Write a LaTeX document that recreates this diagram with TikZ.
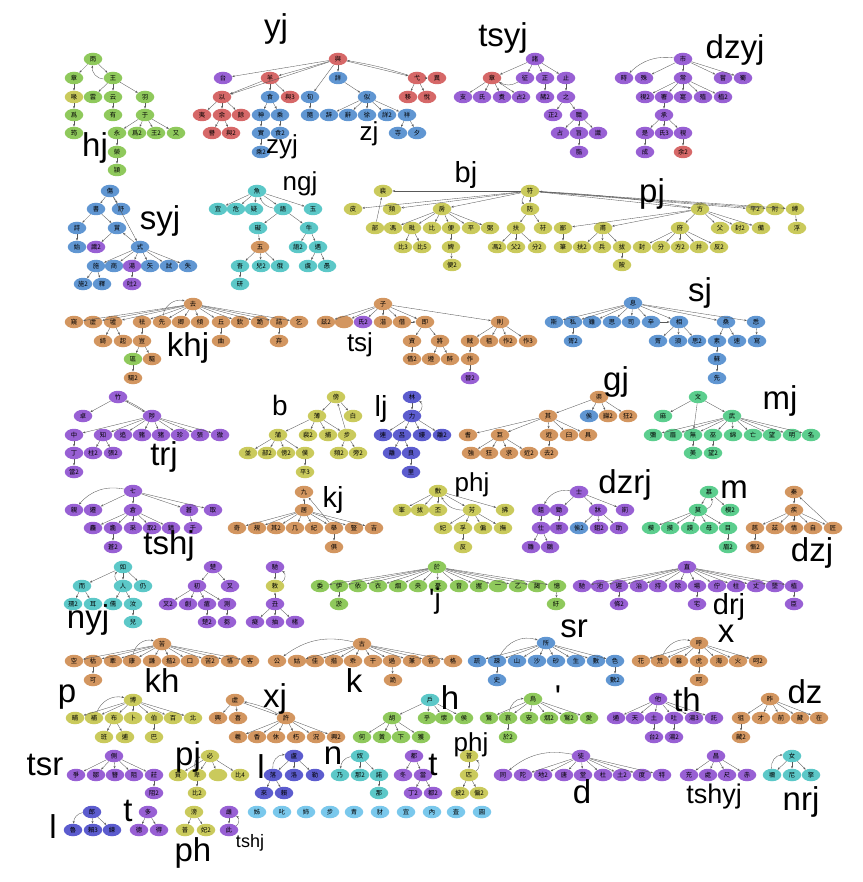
\documentclass[tikz,border=0pt]{standalone}
\usepackage{fontspec}
\setmainfont{Liberation Sans}
\newfontfamily\cjk{Noto Sans CJK TC}
\usetikzlibrary{arrows.meta,shapes.geometric}
\definecolor{cgr}{RGB}{143,201,92}
\definecolor{crd}{RGB}{214,104,104}
\definecolor{cbl}{RGB}{96,150,210}
\definecolor{cpu}{RGB}{152,96,212}
\definecolor{ctl}{RGB}{92,200,200}
\definecolor{cyl}{RGB}{202,202,92}
\definecolor{cor}{RGB}{211,150,96}
\definecolor{cin}{RGB}{92,92,206}
\definecolor{cmt}{RGB}{92,206,142}
\definecolor{csk}{RGB}{122,200,236}
\tikzset{
  nd/.style={ellipse, minimum width=18.5pt, minimum height=12.5pt, inner sep=0pt,
    font=\cjk\fontsize{6.3}{7}\selectfont},
  gr/.style={nd, fill=cgr}, rd/.style={nd, fill=crd}, bl/.style={nd, fill=cbl},
  pu/.style={nd, fill=cpu}, tl/.style={nd, fill=ctl}, yl/.style={nd, fill=cyl},
  og/.style={nd, fill=cor}, ig/.style={nd, fill=cin}, mt/.style={nd, fill=cmt},
  sk/.style={nd, fill=csk},
  ar/.style={-{Stealth[length=2.6pt,width=2pt]}, draw=black!65, line width=0.35pt},
  lbl/.style={inner sep=0pt, font=\fontsize{33}{33}\selectfont},
  slbl/.style={inner sep=0pt, font=\fontsize{26}{26}\selectfont},
}
\begin{document}
\begin{tikzpicture}[x=1pt,y=-1pt]
\useasboundingbox (0,0) rectangle (862,882);
% hj
\node[gr] (hj0) at (93,59) {雨};
\foreach \n/\x/\s in {hj1/74/章,hj2/113/王} \node[gr] (\n) at (\x,78) {\s};
\node[yl] (hj3) at (74,97) {喙};
\foreach \n/\x/\s in {hj4/93/雲,hj5/113/云,hj6/145/羽} \node[gr] (\n) at (\x,97) {\s};
\foreach \n/\x/\s in {hj7/74/爲,hj8/113/有,hj9/145/于} \node[gr] (\n) at (\x,115) {\s};
\foreach \n/\x/\s in {hj10/74/筠,hj11/117/永,hj12/137/爲2,hj13/156/王2,hj14/176/又} \node[gr] (\n) at (\x,133) {\s};
\node[gr] (hj15) at (117,152) {榮};
\node[gr] (hj16) at (117,170) {潁};
\foreach \a/\b in {hj0/hj1,hj0/hj2,hj1/hj3,hj3/hj7,hj7/hj10,hj2/hj4,hj2/hj5,hj2/hj6,hj5/hj8,hj6/hj9,
  hj9/hj11,hj9/hj12,hj9/hj13,hj9/hj14,hj11/hj15,hj15/hj16} \draw[ar] (\a) -- (\b);
\draw[ar] (hj2) to[bend left=50] (hj0);
\node[lbl] (Lhj) at (95,148) {hj};
% yj, zyj, zj
\node[rd] (yj0) at (338,59) {與};
\node[pu] (yj1) at (223,78) {台};
\node[rd] (yj2) at (270,78) {羊};
\node[rd] (yj3) at (222,97) {以};
\node[bl] (zy0) at (270,97) {食};
\node[rd] (yj4) at (290,97) {與3};
\foreach \n/\x/\s in {yj5/202/夷,yj6/222/余,yj7/241/餘} \node[rd] (\n) at (\x,115) {\s};
\foreach \n/\x/\s in {yj8/212/譽,yj9/231/與2} \node[rd] (\n) at (\x,133) {\s};
\foreach \n/\x/\s in {yj10/417/弋,yj11/437/異} \node[rd] (\n) at (\x,78) {\s};
\foreach \n/\x/\s in {yj12/408/移,yj13/427/悅} \node[rd] (\n) at (\x,97) {\s};
\foreach \n/\x/\s in {zy1/261/神,zy2/280/乘} \node[bl] (\n) at (\x,115) {\s};
\foreach \n/\x/\s in {zy3/261/實,zy4/280/食2} \node[bl] (\n) at (\x,133) {\s};
\node[bl] (zy5) at (261,152) {乘2};
\node[bl] (zj0) at (338,78) {詳};
\foreach \n/\x/\s in {zj1/310/旬,zj2/367/似} \node[bl] (\n) at (\x,97) {\s};
\foreach \n/\x/\s in {zj3/310/隨,zj4/329/辞,zj5/348/辭,zj6/367/徐,zj7/387/詳2,zj8/407/祥} \node[bl] (\n) at (\x,115) {\s};
\foreach \n/\x/\s in {zj9/398/寺,zj10/417/夕} \node[bl] (\n) at (\x,133) {\s};
\foreach \a/\b in {yj0/yj1,yj0/yj2,yj0/zj0,yj0/yj10,yj0/zj1,yj0/yj3,yj2/yj3,yj2/zy0,yj2/yj4,yj3/yj5,yj3/yj6,
  yj3/yj7,yj6/yj8,yj6/yj9,yj10/yj11,yj10/yj12,yj10/yj13,zy0/zy1,zy0/zy2,zy1/zy3,zy2/zy4,zy3/zy5,
  zj0/zj2,zj1/zj3,zj2/zj4,zj2/zj5,zj2/zj6,zj2/zj7,zj2/zj8,zj8/zj9,zj8/zj10} \draw[ar] (\a) -- (\b);
\draw[ar] (yj10) to[bend right=4] (yj0);
\node[lbl] (Lyj) at (276,29) {yj};
\node[slbl] (Lzyj) at (282,147) {zyj};
\node[slbl] (Lzj) at (369,134) {zj};
% tsyj
\node[pu] (ts0) at (535,59) {諸};
\node[rd] (ts1) at (492,78) {章};
\foreach \n/\x/\s in {ts2/525/征,ts3/545/正,ts4/566/止} \node[pu] (\n) at (\x,78) {\s};
\foreach \n/\x/\s in {ts5/463/支,ts6/482/氏,ts7/502/煑,ts8/521/占2,ts9/545/赭2,ts10/566/之} \node[pu] (\n) at (\x,97) {\s};
\foreach \n/\x/\s in {ts11/553/正2,ts12/579/職} \node[pu] (\n) at (\x,115) {\s};
\foreach \n/\x/\s in {ts13/560/占,ts14/579/旨,ts15/598/識} \node[pu] (\n) at (\x,133) {\s};
\node[pu] (ts16) at (579,152) {脂};
\foreach \a/\b in {ts0/ts1,ts0/ts2,ts0/ts3,ts0/ts4,ts1/ts5,ts1/ts6,ts1/ts7,ts1/ts8,ts3/ts9,ts4/ts10,
  ts10/ts11,ts10/ts12,ts12/ts13,ts12/ts14,ts12/ts15,ts14/ts16} \draw[ar] (\a) -- (\b);
\draw[ar] (ts2) to[bend left=30] (ts1);
\node[lbl] (Ltsyj) at (503,38) {tsyj};
% dzyj
\node[pu] (dy0) at (683,59) {市};
\foreach \n/\x/\s in {dy1/624/時,dy2/644/殊,dy3/683/常,dy4/723/嘗,dy5/743/蜀} \node[pu] (\n) at (\x,78) {\s};
\foreach \n/\x/\s in {dy6/645/視2,dy7/664/署,dy8/683/寔,dy9/703/殖,dy10/723/植2} \node[pu] (\n) at (\x,97) {\s};
\node[pu] (dy11) at (664,115) {承};
\foreach \n/\x/\s in {dy12/645/是,dy13/664/氏3,dy14/683/視} \node[pu] (\n) at (\x,133) {\s};
\node[pu] (dy15) at (645,152) {成};
\node[rd] (dy16) at (683,152) {余2};
\foreach \a/\b in {dy0/dy2,dy0/dy3,dy0/dy4,dy0/dy5,dy3/dy6,dy3/dy7,dy3/dy8,dy3/dy9,dy3/dy10,dy7/dy11,
  dy11/dy12,dy11/dy13,dy11/dy14,dy12/dy15,dy14/dy16} \draw[ar] (\a) -- (\b);
\draw[ar] (dy0) to[bend right=25] (dy1);
\node[lbl] (Ldzyj) at (735,50) {dzyj};
% syj
\node[bl] (sy0) at (110,191) {傷};
\foreach \n/\x/\s in {sy1/96/書,sy2/121/舒} \node[bl] (\n) at (\x,209) {\s};
\foreach \n/\x/\s in {sy3/77/詩,sy4/117/賞} \node[bl] (\n) at (\x,228) {\s};
\node[bl] (sy5) at (77,247) {始};
\node[pu] (sy6) at (96,247) {識2};
\node[bl] (sy7) at (140,247) {式};
\foreach \n/\x/\s in {sy8/96/施,sy9/114/商,sy11/150/矢,sy12/169/試,sy13/188/失} \node[bl] (\n) at (\x,266) {\s};
\node[pu] (sy10) at (132,266) {湯};
\foreach \n/\x/\s in {sy14/83/施2,sy15/102/釋} \node[bl] (\n) at (\x,284) {\s};
\node[pu] (sy16) at (132,284) {吐2};
\foreach \a/\b in {sy0/sy1,sy0/sy2,sy0/sy7,sy1/sy3,sy1/sy4,sy3/sy5,sy4/sy6,sy7/sy4,sy7/sy8,sy7/sy9,
  sy7/sy10,sy7/sy11,sy7/sy12,sy7/sy13,sy8/sy14,sy8/sy15,sy10/sy16} \draw[ar] (\a) -- (\b);
\node[lbl] (Lsyj) at (160,221) {syj};
% ngj
\node[tl] (ng0) at (257,191) {魚};
\foreach \n/\x/\s in {ng1/218/宜,ng2/236/危,ng3/254/疑,ng4/283/語,ng5/313/玉} \node[tl] (\n) at (\x,209) {\s};
\foreach \n/\x/\s in {ng6/258/礙,ng7/309/牛} \node[tl] (\n) at (\x,228) {\s};
\node[og] (ng8) at (260,247) {五};
\foreach \n/\x/\s in {ng9/298/語2,ng10/318/遇} \node[tl] (\n) at (\x,247) {\s};
\foreach \n/\x/\s in {ng11/240/吾,ng12/261/兒2,ng13/280/俄,ng14/308/虞,ng15/327/愚} \node[tl] (\n) at (\x,266) {\s};
\node[tl] (ng16) at (240,284) {研};
\foreach \a/\b in {ng0/ng1,ng0/ng2,ng0/ng3,ng0/ng4,ng0/ng5,ng4/ng6,ng4/ng7,ng6/ng8,ng7/ng9,ng7/ng10,
  ng8/ng11,ng8/ng12,ng8/ng13,ng10/ng14,ng10/ng15,ng11/ng16} \draw[ar] (\a) -- (\b);
\draw[ar] (ng4) to[bend left=30] (ng0);
\node[slbl] (Lngj) at (300,184) {ngj};
% bj, pj
\node[yl] (bp0) at (530,191) {符};
\node[yl] (bp1) at (383,191) {裴};
\foreach \n/\x/\s in {bp2/353/皮,bp3/392/頻,bp4/442/房,bp5/530/防,bp6/700/方,bp7/755/平2,bp8/775/附,bp9/795/縛}
  \node[yl] (\n) at (\x,209) {\s};
\foreach \n/\x/\s in {bp10/375/部,bp11/393/馮,bp12/412/毗,bp13/432/比,bp14/451/便,bp15/471/平,bp16/490/弼,
  bp17/516/扶,bp18/543/苻,bp19/563/鄙,bp20/603/甫,bp21/680/府,bp22/720/父,bp23/740/封2,bp24/761/備,bp25/797/浮}
  \node[yl] (\n) at (\x,228) {\s};
\foreach \n/\x/\s in {bp26/403/比3,bp27/422/比5,bp28/451/婢,bp29/497/馮2,bp30/516/父2,bp31/537/分2,bp32/563/筆,
  bp33/582/扶2,bp34/602/兵,bp35/622/拔,bp36/642/封,bp37/661/分,bp38/680/方2,bp39/699/并,bp40/719/反2}
  \node[yl] (\n) at (\x,247) {\s};
\foreach \n/\x/\s in {bp41/452/便2,bp42/622/陂} \node[yl] (\n) at (\x,265) {\s};
\foreach \a/\b in {bp0/bp1,bp0/bp2,bp0/bp3,bp0/bp4,bp0/bp5,bp0/bp6,bp0/bp7,bp0/bp8,bp0/bp9,bp10/bp1,
  bp4/bp11,bp4/bp12,bp4/bp13,bp4/bp14,bp4/bp15,bp4/bp16,bp12/bp26,bp12/bp27,bp14/bp28,bp28/bp41,
  bp5/bp17,bp5/bp18,bp17/bp29,bp17/bp30,bp17/bp31,bp6/bp19,bp6/bp20,bp6/bp21,bp6/bp22,bp6/bp23,bp6/bp24,
  bp19/bp32,bp20/bp33,bp20/bp34,bp20/bp35,bp35/bp42,bp21/bp36,bp21/bp37,bp21/bp38,bp21/bp39,bp21/bp40,
  bp9/bp25} \draw[ar] (\a) -- (\b);
\draw[ar] (bp0) to[bend right=50] (bp5);
\draw[ar] (bp6) to[bend right=3] (bp0);
\node[inner sep=0pt, font=\fontsize{29}{29}\selectfont] (Lbj) at (466,175) {bj};
\node[lbl] (Lpj) at (652,194) {pj};
% khj
\node[og] (khj0) at (193,304) {去};
\foreach \n/\x/\s in {khj1/74/窺,khj2/93/虛,khj3/113/墟,khj4/142/祛,khj5/162/先,khj6/181/卿,khj7/200/傾,
  khj8/221/丘,khj9/240/欽,khj10/260/跪,khj11/279/詰,khj12/299/乞} \node[og] (\n) at (\x,322) {\s};
\foreach \n/\x/\s in {khj13/103/綺,khj14/123/起,khj15/142/豈,khj16/221/曲,khj17/279/弃} \node[og] (\n) at (\x,341) {\s};
\node[gr] (khj18) at (133,359) {區};
\node[og] (khj19) at (152,359) {驅};
\node[og] (khj20) at (133,378) {驅2};
\foreach \i in {1,...,12} \draw[ar] (khj0) -- (khj\i);
\foreach \a/\b in {khj3/khj13,khj3/khj14,khj4/khj15,khj15/khj18,khj15/khj19,khj18/khj20,khj8/khj16,khj11/khj17}
  \draw[ar] (\a) -- (\b);
\draw[ar] (khj5) to[bend left=50] (khj0);
\node[lbl] (Lkhj) at (188,348) {khj};
% tsj
\node[og] (tsj0) at (383,304) {子};
\foreach \n/\x/\s in {tsj1/326/兹2,tsj2/344/{},tsj4/383/湝,tsj5/402/借,tsj6/425/即,tsj7/500/則} \node[og] (\n) at (\x,322) {\s};
\node[pu] (tsj3) at (363,322) {氏2};
\foreach \n/\x/\s in {tsj8/412/資,tsj9/440/將,tsj10/470/賊,tsj11/489/祖,tsj12/508/作2,tsj13/528/作3} \node[og] (\n) at (\x,341) {\s};
\foreach \n/\x/\s in {tsj14/412/借2,tsj15/431/遵,tsj16/450/醉,tsj17/470/作} \node[og] (\n) at (\x,359) {\s};
\node[pu] (tsj18) at (470,378) {晉2};
\foreach \i in {1,...,7} \draw[ar] (tsj0) -- (tsj\i);
\foreach \a/\b in {tsj5/tsj6,tsj6/tsj8,tsj6/tsj9,tsj8/tsj14,tsj9/tsj15,tsj9/tsj16,tsj7/tsj10,tsj7/tsj11,
  tsj7/tsj12,tsj7/tsj13,tsj10/tsj17,tsj17/tsj18} \draw[ar] (\a) -- (\b);
\node[slbl] (Ltsj) at (360,345) {tsj};
% sj
\node[bl] (sj0) at (633,303) {息};
\foreach \n/\x/\s in {sj1/554/斯,sj2/573/私,sj3/592/雖,sj4/612/思,sj5/631/司,sj6/651/辛,sj7/679/相,sj8/726/桑,sj9/756/悉}
  \node[bl] (\n) at (\x,322) {\s};
\foreach \n/\x/\s in {sj10/573/胥2,sj11/658/胥,sj12/678/須,sj13/697/思2,sj14/717/素,sj15/737/速,sj16/757/寫}
  \node[bl] (\n) at (\x,341) {\s};
\node[bl] (sj17) at (717,359) {蘇};
\node[bl] (sj18) at (717,378) {先};
\foreach \i in {1,...,9} \draw[ar] (sj0) -- (sj\i);
\foreach \a/\b in {sj6/sj7,sj2/sj10,sj7/sj11,sj7/sj12,sj7/sj13,sj8/sj14,sj8/sj15,sj14/sj17,sj17/sj18,sj9/sj16}
  \draw[ar] (\a) -- (\b);
\node[lbl] (Lsj) at (700,293) {sj};
% trj
\node[pu] (trj0) at (118,397) {竹};
\foreach \n/\x/\s in {trj1/83/卓,trj2/152/陟} \node[pu] (\n) at (\x,416) {\s};
\foreach \n/\x/\s in {trj3/74/中,trj4/103/知,trj5/123/追,trj6/142/豬,trj7/161/猪,trj8/180/珍,trj9/200/張,trj10/220/徹}
  \node[pu] (\n) at (\x,435) {\s};
\foreach \n/\x/\s in {trj11/74/丁,trj12/93/柱2,trj13/113/張2} \node[pu] (\n) at (\x,453) {\s};
\node[pu] (trj14) at (74,472) {當2};
\foreach \i in {3,...,10} \draw[ar] (trj2) -- (trj\i);
\foreach \a/\b in {trj0/trj1,trj0/trj2,trj3/trj11,trj11/trj14,trj4/trj12,trj4/trj13} \draw[ar] (\a) -- (\b);
\draw[ar] (trj2) to[bend right=5] (trj0);
\node[lbl] (Ltrj) at (164,457) {trj};
% b
\node[yl] (bb0) at (336,397) {傍};
\foreach \n/\x/\s in {bb1/317/薄,bb2/353/白} \node[yl] (\n) at (\x,416) {\s};
\foreach \n/\x/\s in {bb3/278/蒲,bb4/308/裴2,bb5/328/捕,bb6/347/步} \node[yl] (\n) at (\x,435) {\s};
\foreach \n/\x/\s in {bb7/248/並,bb8/267/部2,bb9/286/傍2,bb10/305/僕,bb11/339/頻2,bb12/358/旁2} \node[yl] (\n) at (\x,453) {\s};
\node[yl] (bb13) at (305,472) {平3};
\foreach \a/\b in {bb0/bb1,bb0/bb2,bb6/bb0,bb1/bb3,bb1/bb4,bb1/bb5,bb1/bb6,bb3/bb7,bb3/bb8,bb3/bb9,bb3/bb10,
  bb10/bb13,bb6/bb11,bb6/bb12} \draw[ar] (\a) -- (\b);
\node[inner sep=0pt, font=\fontsize{28}{28}\selectfont] (Lb) at (280,405) {b};
% lj
\node[ig] (lj0) at (412,397) {林};
\node[ig] (lj1) at (412,416) {力};
\foreach \n/\x/\s in {lj2/383/連,lj3/402/呂,lj4/422/縷,lj5/442/離2} \node[ig] (\n) at (\x,435) {\s};
\foreach \n/\x/\s in {lj6/392/離,lj7/411/良} \node[ig] (\n) at (\x,453) {\s};
\node[ig] (lj8) at (411,472) {里};
\foreach \a/\b in {lj0/lj1,lj1/lj2,lj1/lj3,lj1/lj4,lj1/lj5,lj3/lj6,lj3/lj7,lj7/lj8} \draw[ar] (\a) -- (\b);
\draw[ar] (lj1) to[bend right=60] (lj0);
\node[inner sep=0pt, font=\fontsize{29}{29}\selectfont] (Llj) at (381,409) {lj};
% gj
\node[og] (gj0) at (599,397) {渠};
\node[og] (gj1) at (548,416) {其};
\node[bl] (gj2) at (589,416) {俟};
\foreach \n/\x/\s in {gj3/608/巋2,gj4/628/狂2} \node[og] (\n) at (\x,416) {\s};
\foreach \n/\x/\s in {gj5/468/耆,gj6/500/巨,gj7/549/近,gj8/569/臼,gj9/588/具} \node[og] (\n) at (\x,435) {\s};
\foreach \n/\x/\s in {gj10/471/強,gj11/489/狂,gj12/509/求,gj13/529/近2,gj14/549/去2} \node[og] (\n) at (\x,453) {\s};
\foreach \a/\b in {gj0/gj1,gj0/gj2,gj0/gj3,gj0/gj4,gj1/gj5,gj1/gj6,gj1/gj7,gj1/gj8,gj1/gj9,gj6/gj10,gj6/gj11,
  gj6/gj12,gj6/gj13,gj7/gj14} \draw[ar] (\a) -- (\b);
\node[lbl] (Lgj) at (616,382) {gj};
% mj
\node[mt] (mj0) at (698,397) {文};
\foreach \n/\x/\s in {mj1/663/麻,mj2/732/武} \node[mt] (\n) at (\x,416) {\s};
\foreach \n/\x/\s in {mj3/653/彌,mj4/673/眉,mj5/693/無,mj6/713/巫,mj7/733/綿,mj8/753/亡,mj9/772/望,mj10/792/明,mj11/811/名}
  \node[mt] (\n) at (\x,435) {\s};
\foreach \n/\x/\s in {mj12/693/美,mj13/713/望2} \node[mt] (\n) at (\x,453) {\s};
\foreach \i in {3,...,11} \draw[ar] (mj2) -- (mj\i);
\foreach \a/\b in {mj0/mj1,mj0/mj2,mj0/mj5,mj5/mj12,mj6/mj13} \draw[ar] (\a) -- (\b);
\node[lbl] (Lmj) at (780,401) {mj};
% tshj
\node[pu] (tshj0) at (133,491) {七};
\foreach \n/\x/\s in {tshj1/74/親,tshj2/93/遷,tshj3/133/倉,tshj4/189/蒼,tshj5/213/取} \node[pu] (\n) at (\x,510) {\s};
\foreach \n/\x/\s in {tshj6/93/麤,tshj7/113/麁,tshj8/133/采,tshj9/152/取2,tshj10/171/錆,tshj11/193/千}
  \node[pu] (\n) at (\x,528) {\s};
\node[pu] (tshj12) at (113,547) {蒼2};
\foreach \a/\b in {tshj0/tshj2,tshj0/tshj3,tshj0/tshj4,tshj0/tshj5,tshj3/tshj6,tshj3/tshj7,tshj3/tshj8,
  tshj3/tshj9,tshj3/tshj10,tshj7/tshj12,tshj4/tshj11} \draw[ar] (\a) -- (\b);
\draw[ar] (tshj0) to[bend right=30] (tshj1);
\node[lbl] (Ltshj) at (169,546) {tshj};
% kj
\node[og] (kj0) at (304,492) {九};
\node[og] (kj1) at (304,510) {居};
\foreach \n/\x/\s in {kj2/237/奇,kj3/257/規,kj4/276/其2,kj5/295/几,kj6/314/紀,kj7/334/舉,kj8/354/豎,kj9/374/吉}
  \node[og] (\n) at (\x,528) {\s};
\node[og] (kj10) at (334,547) {俱};
\foreach \i in {2,...,9} \draw[ar] (kj1) -- (kj\i);
\foreach \a/\b in {kj1/kj0,kj7/kj0,kj7/kj10} \draw[ar] (\a) -- (\b);
\node[inner sep=0pt, font=\fontsize{29}{29}\selectfont] (Lkj) at (333,500) {kj};
% phj
\node[yl] (phj0) at (438,491) {敷};
\foreach \n/\x/\s in {phj1/402/峯,phj2/420/拔,phj3/438/丕,phj4/472/芳,phj5/505/拂} \node[yl] (\n) at (\x,510) {\s};
\foreach \n/\x/\s in {phj6/443/妃,phj7/463/孚,phj8/483/偏,phj9/503/撫} \node[yl] (\n) at (\x,528) {\s};
\node[yl] (phj10) at (463,547) {反};
\foreach \a/\b in {phj0/phj1,phj0/phj2,phj0/phj3,phj0/phj4,phj0/phj5,phj4/phj6,phj4/phj7,phj4/phj8,
  phj4/phj9,phj7/phj10} \draw[ar] (\a) -- (\b);
\draw[ar] (phj4) to[bend left=30] (phj0);
\node[slbl] (Lphj) at (472,485) {phj};
% dzrj
\node[pu] (dzr0) at (579,492) {士};
\foreach \n/\x/\s in {dzr1/541/鉏,dzr2/559/鋤,dzr3/598/牀,dzr4/625/崱} \node[pu] (\n) at (\x,510) {\s};
\foreach \n/\x/\s in {dzr5/541/仕,dzr6/559/崇,dzr8/599/鉏2,dzr9/619/助} \node[pu] (\n) at (\x,528) {\s};
\node[bl] (dzr7) at (579,528) {俟2};
\foreach \n/\x/\s in {dzr10/531/雛,dzr11/550/鶵} \node[pu] (\n) at (\x,547) {\s};
\foreach \a/\b in {dzr0/dzr2,dzr0/dzr3,dzr0/dzr4,dzr1/dzr5,dzr2/dzr6,dzr3/dzr7,dzr3/dzr8,dzr3/dzr9,
  dzr5/dzr10,dzr5/dzr11} \draw[ar] (\a) -- (\b);
\draw[ar] (dzr0) to[bend right=35] (dzr1);
\node[lbl] (Ldzrj) at (625,485) {dzrj};
% m
\node[mt] (mm0) at (709,492) {慕};
\node[mt] (mm1) at (698,510) {莫};
\node[mt] (mm2) at (730,510) {模2};
\foreach \n/\x/\s in {mm3/651/模,mm4/670/摸,mm5/690/謨,mm6/709/母,mm7/728/目} \node[mt] (\n) at (\x,528) {\s};
\node[mt] (mm8) at (728,547) {眉2};
\foreach \a/\b in {mm0/mm1,mm0/mm2,mm1/mm3,mm1/mm4,mm1/mm5,mm1/mm6,mm1/mm7,mm7/mm8} \draw[ar] (\a) -- (\b);
\draw[ar] (mm1) to[bend right=50] (mm0);
\node[lbl] (Lm) at (734,490) {m};
% dzj
\node[og] (dzj0) at (794,492) {秦};
\node[og] (dzj1) at (794,510) {疾};
\foreach \n/\x/\s in {dzj2/755/慈,dzj3/775/茲,dzj4/794/情,dzj5/813/自,dzj6/833/匠} \node[og] (\n) at (\x,528) {\s};
\node[og] (dzj7) at (755,547) {慚2};
\foreach \a/\b in {dzj0/dzj1,dzj1/dzj2,dzj1/dzj3,dzj1/dzj4,dzj1/dzj5,dzj1/dzj6,dzj6/dzj0,dzj2/dzj7}
  \draw[ar] (\a) -- (\b);
\node[lbl] (Ldzj) at (812,553) {dzj};
% nyj
\node[tl] (nyj0) at (123,567) {如};
\foreach \n/\x/\s in {nyj1/82/而,nyj2/123/人,nyj3/143/仍} \node[tl] (\n) at (\x,586) {\s};
\foreach \n/\x/\s in {nyj4/73/孺2,nyj5/93/耳,nyj6/113/儒,nyj7/133/汝} \node[tl] (\n) at (\x,604) {\s};
\node[tl] (nyj8) at (133,622) {兒};
\foreach \a/\b in {nyj0/nyj1,nyj0/nyj2,nyj0/nyj3,nyj1/nyj4,nyj1/nyj5,nyj2/nyj6,nyj2/nyj7,nyj7/nyj8}
  \draw[ar] (\a) -- (\b);
\draw[ar] (nyj2) to[bend left=50] (nyj0);
\node[lbl] (Lnyj) at (88,620) {nyj};
% chu
\node[pu] (chu0) at (213,567) {楚};
\foreach \n/\x/\s in {chu1/197/初,chu2/230/叉} \node[pu] (\n) at (\x,586) {\s};
\foreach \n/\x/\s in {chu3/168/叉2,chu4/188/創,chu5/207/瘡,chu6/227/測} \node[pu] (\n) at (\x,604) {\s};
\foreach \n/\x/\s in {chu7/207/楚2,chu8/227/芻} \node[pu] (\n) at (\x,622) {\s};
\foreach \a/\b in {chu0/chu1,chu0/chu2,chu1/chu3,chu1/chu4,chu1/chu5,chu1/chu6,chu5/chu7,chu6/chu8}
  \draw[ar] (\a) -- (\b);
% chi
\node[pu] (chi0) at (275,567) {馳};
\node[yl] (chi1) at (275,586) {敕};
\node[pu] (chi2) at (275,604) {丑};
\foreach \n/\x/\s in {chi3/255/癡,chi4/275/抽,chi5/295/楮} \node[pu] (\n) at (\x,622) {\s};
\foreach \a/\b in {chi0/chi1,chi2/chi1,chi2/chi3,chi2/chi4,chi2/chi5} \draw[ar] (\a) -- (\b);
\draw[ar] (chi1) to[bend right=60] (chi0);
% 'j
\node[gr] (aj0) at (437,567) {於};
\foreach \n/\x/\s in {aj1/320/委,aj2/339/伊,aj3/358/依,aj4/378/衣,aj5/398/烟,aj6/418/央,aj7/438/憂,aj8/459/音,
  aj9/479/握,aj10/498/一,aj11/518/乙,aj12/537/謁,aj13/557/憶} \node[gr] (\n) at (\x,586) {\s};
\foreach \n/\x/\s in {aj14/339/淤,aj15/556/紆} \node[gr] (\n) at (\x,604) {\s};
\foreach \i in {1,...,13} \draw[ar] (aj0) -- (aj\i);
\foreach \a/\b in {aj2/aj14,aj13/aj15} \draw[ar] (\a) -- (\b);
\node[inner sep=0pt, font=\fontsize{28}{28}\selectfont] (Laj) at (435,601) {\textquotesingle j};
% drj
\node[pu] (drj0) at (687,567) {直};
\foreach \n/\x/\s in {drj1/582/馳,drj2/600/池,drj3/619/遲,drj4/639/治,drj5/658/持,drj6/678/除,drj7/697/場,
  drj8/717/佇,drj9/736/柱,drj10/756/丈,drj11/775/墜,drj12/794/植} \node[pu] (\n) at (\x,586) {\s};
\foreach \n/\x/\s in {drj13/619/條2,drj14/697/宅,drj15/794/臣} \node[pu] (\n) at (\x,604) {\s};
\foreach \i in {1,...,12} \draw[ar] (drj0) -- (drj\i);
\foreach \a/\b in {drj3/drj13,drj7/drj14,drj12/drj15} \draw[ar] (\a) -- (\b);
\node[inner sep=0pt, font=\fontsize{29}{29}\selectfont] (Ldrj) at (729,607) {drj};
% kh
\node[og] (kha0) at (162,644) {苦};
\foreach \n/\x/\s in {kha1/74/空,kha2/93/枯,kha3/113/牽,kha4/132/康,kha5/152/謙,kha6/171/揩2,kha7/190/口,
  kha8/210/苦2,kha9/230/恪,kha10/250/客} \node[og] (\n) at (\x,661) {\s};
\node[og] (kha11) at (93,680) {可};
\foreach \i in {1,...,10} \draw[ar] (kha0) -- (kha\i);
\draw[ar] (kha2) -- (kha11);
\draw[ar] (kha4) to[bend left=50] (kha0);
\node[lbl] (Lkh) at (162,681) {kh};
% k
\node[og] (kk0) at (362,644) {古};
\foreach \n/\x/\s in {kk1/277/公,kk2/297/姑,kk3/315/佳,kk4/334/揩,kk5/353/乖,kk6/373/干,kk7/392/過,kk8/412/兼,
  kk9/431/各,kk10/453/格} \node[og] (\n) at (\x,661) {\s};
\node[og] (kk11) at (393,680) {詭};
\foreach \i in {2,...,10} \draw[ar] (kk0) -- (kk\i);
\draw[ar] (kk7) -- (kk11);
\draw[ar] (kk0) to[bend right=25] (kk1);
\node[lbl] (Lk) at (354,681) {k};
% sr
\node[bl] (sr0) at (546,643) {所};
\foreach \n/\x/\s in {sr1/477/疏,sr2/497/疎,sr3/517/山,sr4/537/沙,sr5/556/砂,sr6/576/生,sr7/596/數,sr8/615/色}
  \node[bl] (\n) at (\x,661) {\s};
\foreach \n/\x/\s in {sr9/497/史,sr10/615/數2} \node[bl] (\n) at (\x,680) {\s};
\foreach \i in {1,...,8} \draw[ar] (sr0) -- (sr\i);
\foreach \a/\b in {sr2/sr9,sr8/sr10} \draw[ar] (\a) -- (\b);
\draw[ar] (sr2) to[bend left=40] (sr0);
\node[lbl] (Lsr) at (574,629) {sr};
% x
\node[og] (xx0) at (699,643) {呼};
\foreach \n/\x/\s in {xx1/641/花,xx2/660/荒,xx3/679/馨,xx4/699/虎,xx5/719/海,xx6/738/火,xx7/758/呵2}
  \node[og] (\n) at (\x,661) {\s};
\node[og] (xx8) at (699,680) {呵};
\foreach \i in {1,...,7} \draw[ar] (xx0) -- (xx\i);
\draw[ar] (xx4) -- (xx8);
\draw[ar] (xx2) to[bend left=40] (xx0);
\node[lbl] (Lx) at (726,634) {x};
% p
\node[yl] (pp0) at (133,700) {博};
\foreach \n/\x/\s in {pp1/75/晡,pp2/94/補,pp3/114/布,pp4/133/卜,pp5/154/伯,pp6/173/百,pp7/193/北}
  \node[yl] (\n) at (\x,718) {\s};
\foreach \n/\x/\s in {pp8/104/班,pp9/125/逋,pp10/154/巴} \node[yl] (\n) at (\x,737) {\s};
\foreach \i in {1,...,7} \draw[ar] (pp0) -- (pp\i);
\foreach \a/\b in {pp3/pp8,pp3/pp9,pp5/pp10} \draw[ar] (\a) -- (\b);
\draw[ar] (pp2) to[bend left=40] (pp0);
\node[lbl] (Lp) at (67,697) {p};
% xj
\node[og] (xj0) at (235,700) {虛};
\foreach \n/\x/\s in {xj1/218/興,xj2/238/喜,xj3/286/許} \node[og] (\n) at (\x,718) {\s};
\foreach \n/\x/\s in {xj4/238/羲,xj5/257/香,xj6/276/休,xj7/296/朽,xj8/316/況,xj9/336/興2} \node[og] (\n) at (\x,737) {\s};
\foreach \a/\b in {xj0/xj1,xj0/xj2,xj0/xj3,xj3/xj4,xj3/xj5,xj3/xj6,xj3/xj7,xj3/xj8,xj3/xj9} \draw[ar] (\a) -- (\b);
\draw[ar] (xj3) to[bend right=8] (xj0);
\node[lbl] (Lxj) at (275,699) {xj};
% h
\node[tl] (hh0) at (430,700) {戶};
\foreach \n/\x/\s in {hh1/392/胡,hh2/427/乎,hh3/444/懷,hh4/464/侯} \node[gr] (\n) at (\x,718) {\s};
\foreach \n/\x/\s in {hh5/362/何,hh6/382/黃,hh7/401/下,hh8/421/獲} \node[gr] (\n) at (\x,737) {\s};
\foreach \a/\b in {hh0/hh1,hh0/hh2,hh0/hh3,hh0/hh4,hh1/hh5,hh1/hh6,hh1/hh7,hh1/hh8} \draw[ar] (\a) -- (\b);
\node[lbl] (Lh) at (450,698) {h};
% '
\node[gr] (qq0) at (533,699) {烏};
\foreach \n/\x/\s in {qq1/489/鷖,qq2/508/哀,qq3/529/安,qq4/549/烟2,qq5/569/鷖2,qq6/589/愛} \node[gr] (\n) at (\x,718) {\s};
\node[gr] (qq7) at (508,737) {於2};
\foreach \i in {1,...,6} \draw[ar] (qq0) -- (qq\i);
\draw[ar] (qq2) -- (qq7);
\draw[ar] (qq2) to[bend left=40] (qq0);
\node[lbl, anchor=north] (Lq) at (558,686) {\textquotesingle};
% th
\node[pu] (th0) at (658,699) {他};
\foreach \n/\x/\s in {th1/616/通,th2/635/天,th3/654/土,th4/674/吐,th5/694/湯3,th6/714/託} \node[pu] (\n) at (\x,718) {\s};
\foreach \n/\x/\s in {th7/654/台2,th8/674/湯2} \node[pu] (\n) at (\x,737) {\s};
\foreach \i in {1,...,6} \draw[ar] (th0) -- (th\i);
\foreach \a/\b in {th3/th7,th4/th8} \draw[ar] (\a) -- (\b);
\node[lbl] (Lth) at (687,700) {th};
% dz
\node[og] (dz0) at (770,699) {昨};
\foreach \n/\x/\s in {dz1/741/徂,dz2/761/才,dz3/781/前,dz4/800/藏,dz5/819/在} \node[og] (\n) at (\x,718) {\s};
\node[og] (dz6) at (741,737) {藏2};
\foreach \i in {1,...,5} \draw[ar] (dz0) -- (dz\i);
\draw[ar] (dz1) -- (dz6);
\node[lbl] (Ldz) at (805,692) {dz};
% tsr
\node[pu] (tsr0) at (114,756) {側};
\foreach \n/\x/\s in {tsr1/76/爭,tsr2/96/鄒,tsr3/115/簪,tsr4/134/阻,tsr5/154/莊} \node[pu] (\n) at (\x,775) {\s};
\node[pu] (tsr6) at (154,793) {阻2};
\foreach \i in {1,...,5} \draw[ar] (tsr0) -- (tsr\i);
\draw[ar] (tsr5) -- (tsr6);
\node[lbl] (Ltsr) at (45,765) {tsr};
% pj (small)
\node[yl] (pjs0) at (210,756) {必};
\foreach \n/\x/\s in {pjs1/178/貧,pjs2/197/卑,pjs3/218/{},pjs4/240/比4} \node[yl] (\n) at (\x,775) {\s};
\node[yl] (pjs5) at (197,793) {比2};
\foreach \i in {1,...,4} \draw[ar] (pjs0) -- (pjs\i);
\draw[ar] (pjs2) -- (pjs5);
\draw[ar] (pjs2) to[bend left=50] (pjs0);
\node[lbl] (Lpjs) at (188,757) {pj};
% l
\node[ig] (ll0) at (294,756) {盧};
\foreach \n/\x/\s in {ll1/273/落,ll2/294/洛,ll3/315/勒} \node[ig] (\n) at (\x,775) {\s};
\foreach \n/\x/\s in {ll4/264/來,ll5/284/賴} \node[ig] (\n) at (\x,793) {\s};
\foreach \a/\b in {ll0/ll1,ll0/ll2,ll0/ll3,ll1/ll4,ll1/ll5} \draw[ar] (\a) -- (\b);
\draw[ar] (ll1) to[bend left=50] (ll0);
\node[lbl] (Ll) at (261,767) {l};
% n
\node[tl] (nn0) at (360,756) {奴};
\foreach \n/\x/\s in {nn1/340/乃,nn2/360/那2,nn3/379/諾} \node[tl] (\n) at (\x,775) {\s};
\node[tl] (nn4) at (379,793) {那};
\foreach \a/\b in {nn0/nn2,nn0/nn3,nn3/nn4} \draw[ar] (\a) -- (\b);
\draw[ar] (nn0) to[bend right=40] (nn1);
\node[lbl] (Ln) at (333,756) {n};
% t
\node[pu] (tt0) at (414,756) {都};
\foreach \n/\x/\s in {tt1/403/冬,tt2/423/當} \node[pu] (\n) at (\x,775) {\s};
\foreach \n/\x/\s in {tt3/413/丁2,tt4/433/都2} \node[pu] (\n) at (\x,793) {\s};
\foreach \a/\b in {tt0/tt1,tt0/tt2,tt2/tt3,tt2/tt4} \draw[ar] (\a) -- (\b);
\node[lbl] (Lt) at (433,765) {t};
% phj (small)
\node[yl] (phs0) at (469,756) {普};
\node[yl] (phs1) at (469,775) {匹};
\foreach \n/\x/\s in {phs2/460/披2,phs3/479/偏2} \node[yl] (\n) at (\x,793) {\s};
\foreach \a/\b in {phs0/phs1,phs1/phs2,phs1/phs3} \draw[ar] (\a) -- (\b);
\draw[ar] (phs1) to[bend right=60] (phs0);
\node[slbl] (Lphs) at (471,745) {phj};
% d
\node[pu] (dd0) at (581,756) {徒};
\foreach \n/\x/\s in {dd1/503/同,dd2/523/陀,dd3/543/地2,dd4/564/唐,dd5/583/堂,dd6/603/杜,dd7/622/土2,dd8/642/度,dd9/662/特}
  \node[pu] (\n) at (\x,775) {\s};
\foreach \i in {2,...,9} \draw[ar] (dd0) -- (dd\i);
\draw[ar] (dd0) to[bend right=25] (dd1);
\node[lbl] (Ld) at (582,792) {d};
% tshyj
\node[pu] (tsy0) at (716,756) {昌};
\foreach \n/\x/\s in {tsy1/689/充,tsy2/708/處,tsy3/727/尺,tsy4/747/赤} \node[pu] (\n) at (\x,775) {\s};
\foreach \i in {1,...,4} \draw[ar] (tsy0) -- (tsy\i);
\node[inner sep=0pt, font=\fontsize{27}{27}\selectfont] (Ltsy) at (714,797) {tshyj};
% nrj
\node[tl] (nrj0) at (792,756) {女};
\foreach \n/\x/\s in {nrj1/772/禰,nrj2/792/尼,nrj3/811/拏} \node[tl] (\n) at (\x,775) {\s};
\foreach \i in {1,...,3} \draw[ar] (nrj0) -- (nrj\i);
\draw[ar] (nrj1) to[bend left=50] (nrj0);
\node[lbl] (Lnrj) at (801,802) {nrj};
% l (bottom)
\node[ig] (lb0) at (92,812) {郎};
\foreach \n/\x/\s in {lb1/73/魯,lb2/93/賴3,lb3/112/練} \node[ig] (\n) at (\x,830) {\s};
\foreach \i in {2,3} \draw[ar] (lb0) -- (lb\i);
\draw[ar] (lb0) to[bend right=40] (lb1);
\node[lbl] (Llb) at (53,827) {l};
% t (bottom)
\node[pu] (tb0) at (148,812) {多};
\foreach \n/\x/\s in {tb1/139/德,tb2/159/得} \node[pu] (\n) at (\x,830) {\s};
\foreach \i in {1,2} \draw[ar] (tb0) -- (tb\i);
\node[lbl] (Ltb) at (128,811) {t};
% ph
\node[yl] (ph0) at (194,812) {滂};
\foreach \n/\x/\s in {ph1/185/普,ph2/206/妃2} \node[yl] (\n) at (\x,830) {\s};
\foreach \i in {1,2} \draw[ar] (ph0) -- (ph\i);
\node[lbl] (Lph) at (193,853) {ph};
% tshj (small)
\node[pu] (tss0) at (229,812) {雌};
\node[pu] (tss1) at (229,830) {此};
\draw[ar] (tss0) -- (tss1);
\draw[ar] (tss1) to[bend right=60] (tss0);
\node[inner sep=0pt, font=\fontsize{18}{18}\selectfont] (Ltss) at (250,843) {tshj};
% single nodes
\foreach \n/\x/\s in {sg1/257/姊,sg2/282/叱,sg3/306/姉,sg4/330/步,sg5/354/青,sg6/380/豺,sg7/406/宜,sg8/432/內,
  sg9/456/査,sg10/482/圓} \node[sk] (\n) at (\x,812) {\s};
\end{tikzpicture}
\end{document}
